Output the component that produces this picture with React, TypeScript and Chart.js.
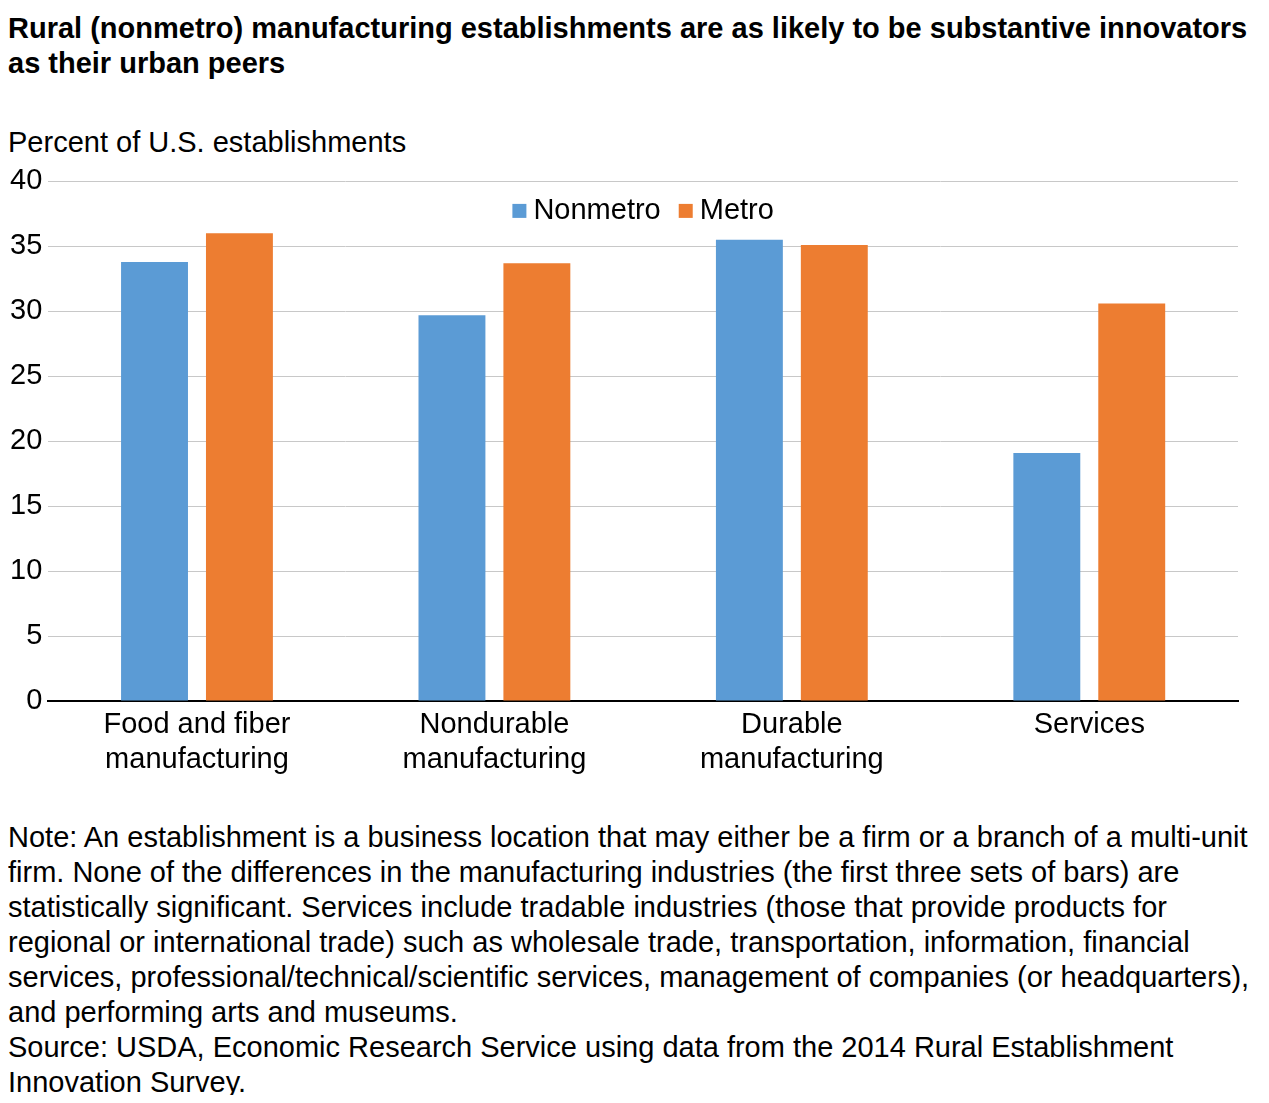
import React, { useEffect, useRef } from "react";
import { Chart, registerables } from "chart.js";

Chart.register(...registerables);

const FONT = '"Liberation Sans", Arial, Helvetica, sans-serif';

const categories: string[][] = [
  ["Food and fiber", "manufacturing"],
  ["Nondurable", "manufacturing"],
  ["Durable", "manufacturing"],
  ["Services"],
];
const nonmetro: number[] = [33.8, 29.7, 35.5, 19.1];
const metro: number[] = [36.0, 33.7, 35.1, 30.6];
const seriesNames: string[] = ["Nonmetro", "Metro"];
const seriesColors: string[] = ["#5B9BD5", "#ED7D31"];

const titleLines: string[] = [
  "Rural (nonmetro) manufacturing establishments are as likely to be substantive innovators",
  "as their urban peers",
];
const axisTitle = "Percent of U.S. establishments";
const noteLines: string[] = [
  "Note: An establishment is a business location that may either be a firm or a branch of a multi-unit",
  "firm. None of the differences in the manufacturing industries (the first three sets of bars) are",
  "statistically significant. Services include tradable industries (those that provide products for",
  "regional or international trade) such as wholesale trade, transportation, information, financial",
  "services, professional/technical/scientific services, management of companies (or headquarters),",
  "and performing arts and museums.",
  "Source: USDA, Economic Research Service using data from the 2014 Rural Establishment",
  "Innovation Survey.",
];

const innerLegend = {
  id: "innerLegend",
  afterDraw(chart: any) {
    const ctx = chart.ctx as CanvasRenderingContext2D;
    const { left, right, top } = chart.chartArea;
    ctx.save();
    ctx.font = `29px ${FONT}`;
    ctx.textBaseline = "middle";
    ctx.textAlign = "left";
    const box = 14;
    const gap = 7;
    const itemGap = 18;
    const items = chart.data.datasets.map((ds: any) => ({
      text: String(ds.label),
      color: String(ds.backgroundColor),
      w: ctx.measureText(String(ds.label)).width,
    }));
    let total = 0;
    items.forEach((it: any, i: number) => {
      total += box + gap + it.w + (i > 0 ? itemGap : 0);
    });
    let x = (left + right) / 2 - total / 2;
    const y = top + 29.5;
    items.forEach((it: any) => {
      ctx.fillStyle = it.color;
      ctx.fillRect(x, y - box / 2, box, box);
      ctx.fillStyle = "#000";
      ctx.fillText(it.text, x + box + gap, y);
      x += box + gap + it.w + itemGap;
    });
    ctx.restore();
  },
};

export default function App() {
  const canvasRef = useRef<HTMLCanvasElement | null>(null);

  useEffect(() => {
    if (!canvasRef.current) return;
    const chart = new Chart(canvasRef.current, {
      type: "bar",
      data: {
        labels: categories,
        datasets: [
          {
            label: seriesNames[0],
            data: nonmetro,
            backgroundColor: seriesColors[0],
            categoryPercentage: 0.571,
            barPercentage: 0.788,
          },
          {
            label: seriesNames[1],
            data: metro,
            backgroundColor: seriesColors[1],
            categoryPercentage: 0.571,
            barPercentage: 0.788,
          },
        ],
      },
      options: {
        animation: false,
        responsive: false,
        maintainAspectRatio: false,
        layout: { padding: { top: 18, right: 23, bottom: 5, left: 0 } },
        plugins: {
          title: { display: false },
          tooltip: { enabled: false },
          legend: { display: false },
        },
        scales: {
          x: {
            grid: { display: false, drawTicks: false },
            border: { display: true, color: "#000", width: 2 },
            ticks: {
              color: "#000",
              padding: 6,
              maxRotation: 0,
              autoSkip: false,
              font: { family: FONT, size: 29, lineHeight: 35 / 29 },
            },
          },
          y: {
            min: 0,
            max: 40,
            grid: { color: "#C8C8C8", lineWidth: 1, drawTicks: false },
            border: { display: false },
            ticks: {
              stepSize: 5,
              color: "#000",
              padding: 6,
              font: { family: FONT, size: 29 },
            },
          },
        },
      },
      plugins: [innerLegend],
    });
    return () => chart.destroy();
  }, []);

  const textStyle: React.CSSProperties = {
    fontFamily: FONT,
    fontSize: 29,
    lineHeight: "35px",
    color: "#000",
    whiteSpace: "nowrap",
  };

  return (
    <div style={{ position: "relative", width: 1253, height: 1087 }}>
      <div style={{ ...textStyle, position: "absolute", left: 0, top: 3, fontWeight: "bold" }}>
        {titleLines.map((l, i) => (
          <div key={i}>{l}</div>
        ))}
      </div>
      <div style={{ ...textStyle, position: "absolute", left: 0, top: 117 }}>{axisTitle}</div>
      <canvas
        ref={canvasRef}
        width={1257}
        height={630}
        style={{ position: "absolute", left: -4, top: 150, width: 1257, height: 630 }}
      />
      <div style={{ ...textStyle, position: "absolute", left: 0, top: 812 }}>
        {noteLines.map((l, i) => (
          <div key={i}>{l}</div>
        ))}
      </div>
    </div>
  );
}
